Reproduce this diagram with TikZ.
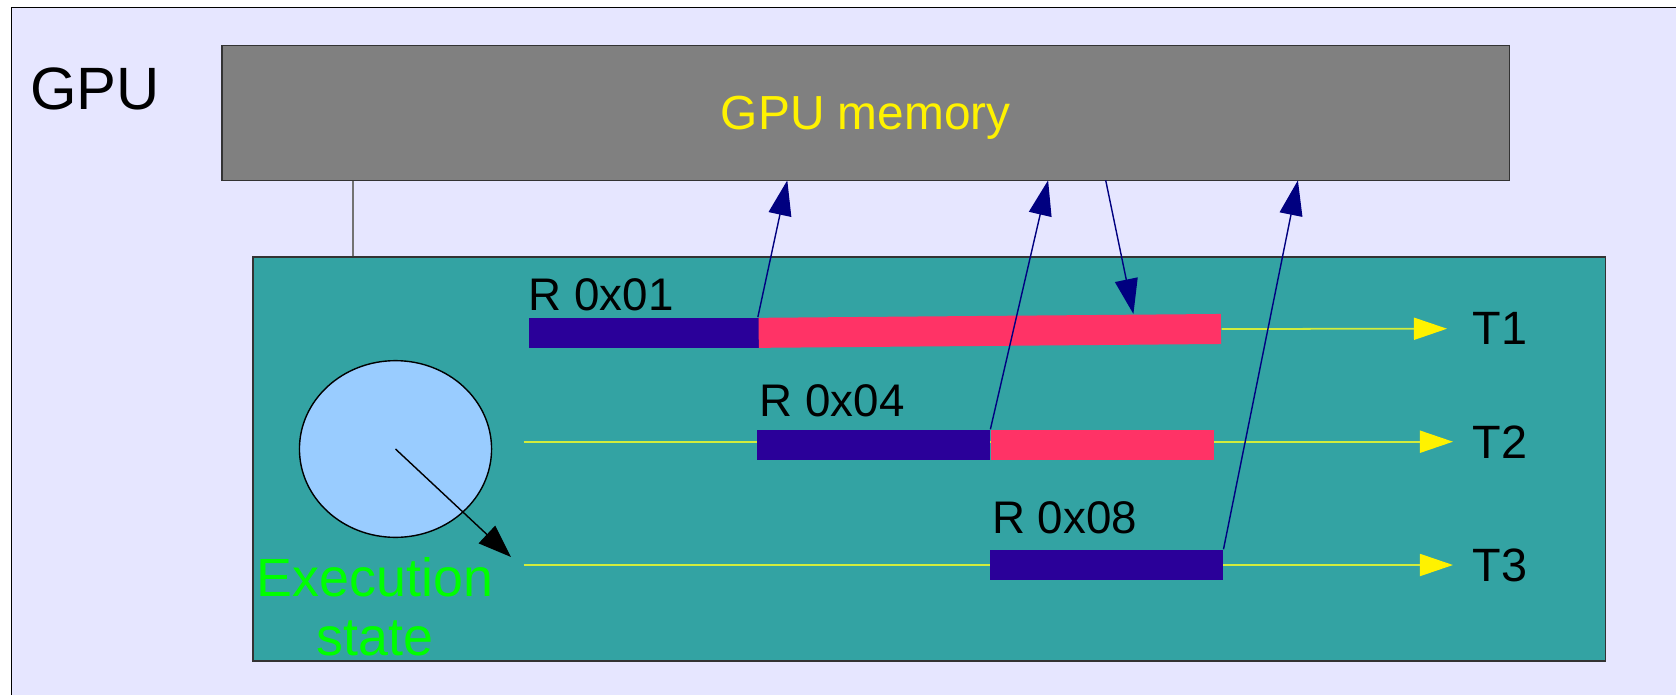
\documentclass[tikz,border=0pt]{standalone}
\usepackage{fontspec}
\setmainfont{Liberation Sans}
\usetikzlibrary{arrows.meta,shapes.geometric,calc}

\definecolor{gpuBg}{HTML}{E6E6FF}
\definecolor{memGray}{HTML}{808080}
\definecolor{coreTeal}{HTML}{33A3A3}
\definecolor{regBlue}{HTML}{2A0099}
\definecolor{regPink}{HTML}{FF3366}
\definecolor{stateBlue}{HTML}{99CCFF}
\definecolor{lineYellow}{HTML}{D2EC3C}
\definecolor{accessNavy}{HTML}{000080}
\definecolor{stateGreen}{HTML}{00FF00}

\begin{document}
\begin{tikzpicture}[x=0.01cm, y=-0.01cm]

% styles
\tikzstyle{regBar}=[rectangle, inner sep=0pt, minimum height=0.3cm]
\tikzstyle{regOld}=[regBar, fill=regBlue]
\tikzstyle{regNew}=[regBar, fill=regPink]
\tikzstyle{regLabel}=[anchor=base west, inner sep=0pt, font=\fontsize{13}{15}\selectfont]
\tikzstyle{threadLabel}=[anchor=west, inner sep=0pt, font=\fontsize{13.3}{16}\selectfont]

\tikzstyle{timeLine}=[-{Triangle[length=0.33cm,width=0.22cm,color=yellow]}, draw=lineYellow, line width=0.5pt]
\tikzstyle{memAccess}=[-{Triangle[length=0.35cm,width=0.23cm]}, draw=accessNavy, line width=0.4pt]

\useasboundingbox (0,0) rectangle (1676,694);
\fill[white] (0,0) rectangle (1676,694);
\draw[fill=gpuBg, line width=0.45pt] (11.5,7.3) rectangle (1700,720);

% GPU and its memory
\node[anchor=base west, inner sep=0pt, font=\fontsize{17}{20}\selectfont] (gpu) at (29.6,109.3) {GPU};
\node[rectangle, draw=black!80, fill=memGray, minimum width=12.869cm, minimum height=1.346cm,
      inner sep=0pt, text depth=0pt, text=yellow, font=\fontsize{13.6}{16}\selectfont] (mem) at (865.75,113) {GPU memory};

% core
\node[rectangle, draw=black!80, fill=coreTeal, minimum width=13.518cm, minimum height=4.034cm, inner sep=0pt] (core) at (929.4,459) {};
\coordinate (bus) at (352.9,220);
\draw[black!55, line width=0.4pt] (bus |- mem.south) -- (bus |- core.north);

% execution state
\node[ellipse, draw=black, fill=stateBlue, minimum width=1.92cm, minimum height=1.766cm, inner sep=0pt, line width=0.4pt] (state) at (395.5,449) {};
\node[anchor=base, align=center, inner sep=0pt, text=stateGreen, font=\fontsize{15.3}{16.6}\selectfont] (stateLabel) at (375,655) {Execution\\state};

% threads
\node[threadLabel] (t1) at (1472,328.7) {T1};
\node[threadLabel] (t2) at (1472,441.7) {T2};
\node[threadLabel] (t3) at (1472,565) {T3};

\coordinate (s2) at (523.6,441.7);
\coordinate (s3) at (523.6,565);

\draw[timeLine, shorten >=0.19cm] (s2) -- (t2.west);
\draw[timeLine, shorten >=0.19cm] (s3) -- (t3.west);

% registers
\node[regOld, minimum width=2.295cm] (r1a) at (644.15,333.3) {};
\node[regNew, minimum width=4.62cm, rotate=0.48] (r1b) at (989.8,330.9) {};
\node[regOld, minimum width=2.325cm] (r2a) at (873.35,445) {};
\node[regNew, minimum width=2.227cm, anchor=west] (r2b) at (r2a.east) {};
\node[regOld, minimum width=2.327cm] (r3a) at (1106.35,565) {};

\draw[timeLine, shorten >=0.25cm] (r1b.east) -- (t1.west);

\node[regLabel] (l1) at (528,310) {R 0x01};
\node[regLabel] (l2) at (759,416.7) {R 0x04};
\node[regLabel] (l3) at (991.5,533.3) {R 0x08};

% memory accesses
\coordinate (m1) at (787.3,180.3);
\coordinate (m2) at (1048.1,180.3);
\coordinate (m3) at (1105.7,180.3);
\coordinate (m4) at (1297.9,180.3);
\coordinate (w1) at ($(r1b.north west)!0.81!(r1b.north east)$);

\draw[memAccess] (r1b.north west) -- (m1);
\draw[memAccess] (r2b.north west) -- (m2);
\draw[memAccess] (m3) -- (w1);
\draw[memAccess] (r3a.north east) -- (m4);

\coordinate (stateTip) at (511,557);
\draw[-{Triangle[length=0.33cm,width=0.24cm]}, line width=0.4pt] (state.center) -- (stateTip);

\end{tikzpicture}
\end{document}
